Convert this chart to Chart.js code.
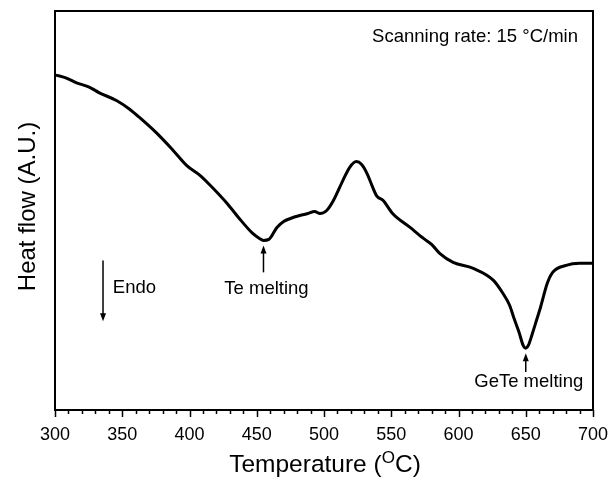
<!DOCTYPE html>
<html lang="en">
<head>
  <meta charset="UTF-8">
  <title>DSC curve</title>
  <script src="https://cdn.jsdelivr.net/npm/chart.js"></script>
  <style>
    body { margin: 0; background: #fff; }
    canvas { display: block; }
  </style>
</head>
<body>
  <canvas id="grafica" width="611" height="479"></canvas>

  <script>
    // temperature (°C) and heat flow (arbitrary units)
    const temperatura = [300, 308, 316, 325, 333, 346, 355, 363, 376, 388, 398, 408, 417, 428, 437, 447, 452, 455, 459, 465,
      470, 475, 482, 488, 493, 497, 502, 507, 514, 519, 524, 528, 532, 536, 539, 544, 551, 564, 574, 580,
      586, 596, 611, 626, 633, 638, 641, 645, 648, 650, 652, 655, 658, 661, 666, 670, 680, 690, 700];
    const flujo = [84.0, 83.25, 82.0, 81.0, 79.5, 77.5, 75.5, 73.25, 69.25, 65.0, 61.25, 58.75, 55.75, 51.75, 48.0, 44.25, 43.0, 42.5, 42.75, 45.75,
      47.25, 48.0, 48.75, 49.25, 49.75, 49.25, 50.0, 52.5, 57.5, 60.75, 62.25, 61.5, 59.25, 56.0, 53.75, 52.5, 49.25, 45.75, 43.0, 41.5,
      39.25, 37.0, 35.5, 32.5, 29.25, 26.25, 23.25, 19.5, 16.25, 15.5, 16.25, 19.25, 22.5, 25.75, 31.75, 34.5, 36.25, 36.75, 36.75];

    const xTicks = [300, 350, 400, 450, 500, 550, 600, 650, 700];

    // labelled arrows: x, arrow tip / tail, text baseline (data units)
    const marcas = [
      { texto: 'Te melting', x: 455, punta: 41.25, cola: 34.5, texto_y: 29 },
      { texto: 'GeTe melting', x: 650, punta: 14.25, cola: 9.5, texto_y: 5.75 }
    ];
    const endo = { texto: 'Endo', x: 335.7, desde: 37.5, hasta: 22.25, texto_x: 343, texto_y: 29.25 };
    const nota = { texto: 'Scanning rate: 15 \u00B0C/min', x: 688.8, y: 92.25 };

    function flecha(ctx, x, y0, y1) {
      // line from y0 to y1 with head at y1
      const dir = y1 > y0 ? 1 : -1;
      ctx.beginPath();
      ctx.moveTo(x, y0);
      ctx.lineTo(x, y1 - dir * 6);
      ctx.lineWidth = 1.5;
      ctx.stroke();
      ctx.beginPath();
      ctx.moveTo(x, y1);
      ctx.lineTo(x - 3, y1 - dir * 8);
      ctx.lineTo(x + 3, y1 - dir * 8);
      ctx.closePath();
      ctx.fill();
    }

    const decoracion = {
      id: 'decoracion',
      afterDraw(chart) {
        const ctx = chart.ctx;
        const a = chart.chartArea;
        const xs = chart.scales.x, ys = chart.scales.y;
        ctx.save();
        ctx.strokeStyle = '#000';
        ctx.fillStyle = '#000';

        // frame
        ctx.lineWidth = 2;
        ctx.strokeRect(a.left, a.top, a.right - a.left, a.bottom - a.top);

        // outward ticks, minor every 10
        ctx.lineWidth = 1.5;
        for (let t = 300; t <= 700; t += 10) {
          const px = Math.round(xs.getPixelForValue(t)) + 0.5;
          const largo = t % 50 === 0 ? 7 : 4;
          ctx.beginPath();
          ctx.moveTo(px, a.bottom);
          ctx.lineTo(px, a.bottom + largo);
          ctx.stroke();
        }

        ctx.font = '18.5px "Liberation Sans", Arial, sans-serif';
        ctx.textBaseline = 'alphabetic';

        marcas.forEach(m => {
          const px = xs.getPixelForValue(m.x);
          flecha(ctx, px, ys.getPixelForValue(m.cola), ys.getPixelForValue(m.punta));
          ctx.textAlign = 'center';
          ctx.fillText(m.texto, px + 3, ys.getPixelForValue(m.texto_y));
        });

        flecha(ctx, xs.getPixelForValue(endo.x), ys.getPixelForValue(endo.desde), ys.getPixelForValue(endo.hasta));
        ctx.textAlign = 'left';
        ctx.fillText(endo.texto, xs.getPixelForValue(endo.texto_x), ys.getPixelForValue(endo.texto_y));

        ctx.textAlign = 'right';
        ctx.fillText(nota.texto, xs.getPixelForValue(nota.x), ys.getPixelForValue(nota.y));

        // x axis title with superscript O
        const f1 = '24.5px "Liberation Sans", Arial, sans-serif';
        const f2 = '17px "Liberation Sans", Arial, sans-serif';
        const p1 = 'Temperature (', p2 = 'O', p3 = 'C)';
        ctx.font = f1; const w1 = ctx.measureText(p1).width, w3 = ctx.measureText(p3).width;
        ctx.font = f2; const w2 = ctx.measureText(p2).width;
        let x0 = (a.left + a.right) / 2 + 1 - (w1 + w2 + w3) / 2;
        const base = 472;
        ctx.textAlign = 'left';
        ctx.font = f1; ctx.fillText(p1, x0, base);
        ctx.font = f2; ctx.fillText(p2, x0 + w1, base - 9);
        ctx.font = f1; ctx.fillText(p3, x0 + w1 + w2, base);

        // y axis title
        ctx.translate(35, (a.top + a.bottom) / 2 - 4);
        ctx.rotate(-Math.PI / 2);
        ctx.textAlign = 'center';
        ctx.font = '24px "Liberation Sans", Arial, sans-serif';
        ctx.fillText('Heat flow (A.U.)', 0, 0);
        ctx.restore();
      }
    };

    const ctx = document.getElementById('grafica').getContext('2d');
    new Chart(ctx, {
      type: 'line',
      data: {
        datasets: [{
          data: temperatura.map((t, i) => ({ x: t, y: flujo[i] })),
          borderColor: '#000',
          borderWidth: 3,
          pointRadius: 0,
          tension: 0.35,
          cubicInterpolationMode: 'monotone',
          fill: false
        }]
      },
      options: {
        responsive: false,
        animation: false,
        layout: { padding: { top: 11, right: 18, left: 55, bottom: 0 } },
        plugins: { legend: { display: false }, tooltip: { enabled: false } },
        scales: {
          x: {
            type: 'linear',
            min: 300, max: 700,
            afterBuildTicks: axis => { axis.ticks = xTicks.map(v => ({ value: v })); },
            afterFit: axis => {
              axis.height = 69;
              axis.paddingLeft = 0;
              axis.paddingRight = 0;
            },
            grid: { display: false, drawTicks: false },
            border: { display: false },
            ticks: {
              color: '#000',
              padding: 14,
              maxRotation: 0,
              font: { family: '"Liberation Sans", Arial, sans-serif', size: 18 }
            }
          },
          y: {
            display: false,
            min: 0, max: 100
          }
        }
      },
      plugins: [decoracion]
    });
  </script>
</body>
</html>
